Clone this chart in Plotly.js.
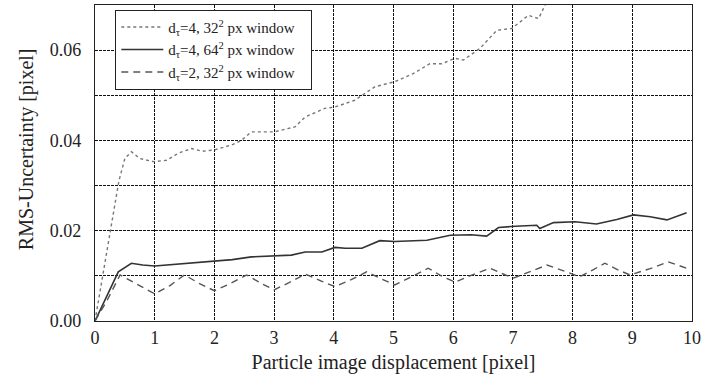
<!DOCTYPE html>
<html>
<head>
<meta charset="utf-8">
<script src="https://cdn.plot.ly/plotly-3.0.1.min.js"></script>
<style>html,body{margin:0;padding:0;background:#fff;}#chart{width:706px;height:381px;}</style>
</head>
<body>
<div id="chart"></div>
<script>
// d_tau=4, 32^2 px window (dotted)
const xA = [0, 0.1, 0.2, 0.3, 0.4, 0.5, 0.61, 0.75, 0.98, 1.2, 1.4, 1.62, 1.8, 2.0, 2.29, 2.45, 2.62, 3.0, 3.35, 3.52, 3.85, 4.02, 4.35, 4.69, 5.02, 5.33, 5.61, 5.81, 6.03, 6.17, 6.45, 6.73, 6.98, 7.26, 7.43, 7.54, 7.65];
const yA = [0, 0.008, 0.016, 0.024, 0.031, 0.036, 0.0375, 0.036, 0.0353, 0.0356, 0.0372, 0.0382, 0.0376, 0.0379, 0.039, 0.040, 0.0419, 0.0419, 0.043, 0.0452, 0.0471, 0.0474, 0.0489, 0.0519, 0.053, 0.0548, 0.057, 0.057, 0.0582, 0.0578, 0.0604, 0.0644, 0.0648, 0.0677, 0.067, 0.070, 0.073];

// d_tau=4, 64^2 px window (solid)
const xB = [0, 0.2, 0.39, 0.61, 0.8, 1.0, 1.3, 1.62, 2.0, 2.3, 2.62, 3.0, 3.29, 3.52, 3.8, 4.02, 4.19, 4.47, 4.77, 5.02, 5.3, 5.56, 5.95, 6.3, 6.56, 6.76, 7.04, 7.4, 7.45, 7.68, 8.04, 8.4, 8.74, 9.02, 9.3, 9.58, 9.91];
const yB = [0, 0.0055, 0.0109, 0.0128, 0.0124, 0.0122, 0.0125, 0.0128, 0.0133, 0.0136, 0.0142, 0.0144, 0.0146, 0.0153, 0.0153, 0.0163, 0.0161, 0.0161, 0.0178, 0.0176, 0.0177, 0.0179, 0.019, 0.0191, 0.0188, 0.0207, 0.021, 0.0212, 0.0205, 0.0218, 0.022, 0.0215, 0.0225, 0.0235, 0.0231, 0.0224, 0.024];

// d_tau=2, 32^2 px window (dashed)
const xC = [0, 0.2, 0.42, 0.7, 1.0, 1.25, 1.5, 1.75, 2.0, 2.25, 2.54, 2.8, 3.0, 3.25, 3.52, 3.8, 4.02, 4.3, 4.55, 4.8, 5.02, 5.3, 5.58, 5.8, 6.03, 6.3, 6.62, 6.8, 7.01, 7.3, 7.57, 7.85, 8.12, 8.35, 8.54, 8.75, 8.96, 9.3, 9.6, 9.91];
const yC = [0, 0.0045, 0.0102, 0.0082, 0.006, 0.0078, 0.0102, 0.0083, 0.0067, 0.0082, 0.0102, 0.0082, 0.0069, 0.0085, 0.0104, 0.0088, 0.0076, 0.0092, 0.0109, 0.0093, 0.008, 0.0098, 0.0117, 0.0100, 0.0086, 0.0101, 0.0117, 0.0106, 0.0095, 0.0110, 0.0124, 0.0111, 0.0098, 0.0114, 0.0128, 0.0114, 0.0102, 0.0116, 0.0131, 0.0117];

const legendNames = [
  'd<sub>τ</sub>=4, 32<sup>2</sup> px window',
  'd<sub>τ</sub>=4, 64<sup>2</sup> px window',
  'd<sub>τ</sub>=2, 32<sup>2</sup> px window'
];
const xTicks = [0,1,2,3,4,5,6,7,8,9,10];
const yTickVals = [0, 0.02, 0.04, 0.06];
const yTickText = ['0.00', '0.02', '0.04', '0.06'];
const xTitle = 'Particle image displacement [pixel]';
const yTitle = 'RMS-Uncertainty [pixel]';

const serif = '"Liberation Serif", "Times New Roman", serif';
const gridDash = '3px,1px';
const pad = '\u00a0\u00a0\u00a0';

const traces = [
  {x: xA, y: yA, name: legendNames[0] + pad, mode: 'lines', line: {color: '#777', width: 1.4, dash: 'dot'}},
  {x: xB, y: yB, name: legendNames[1] + pad, mode: 'lines', line: {color: '#333', width: 1.6, dash: 'solid'}},
  {x: xC, y: yC, name: legendNames[2] + pad, mode: 'lines', line: {color: '#555', width: 1.4, dash: '7px,5px'}}
];

const layout = {
  width: 706, height: 381,
  margin: {l: 95, r: 14, t: 5, b: 60},
  paper_bgcolor: '#fff', plot_bgcolor: '#fff',
  font: {family: serif, size: 18, color: '#222'},
  showlegend: true,
  legend: {
    x: 0.034, y: 0.985, xanchor: 'left', yanchor: 'top',
    bgcolor: '#fff', bordercolor: '#222', borderwidth: 1,
    font: {family: serif, size: 15, color: '#222'},
    tracegroupgap: 0, itemwidth: 42
  },
  xaxis: {
    range: [0, 10], tickvals: xTicks, ticktext: xTicks.map(String),
    showgrid: true, gridcolor: '#111', gridwidth: 1, griddash: gridDash,
    showline: true, linecolor: '#222', linewidth: 1.2, mirror: true,
    zeroline: false, ticks: '', tickfont: {family: serif, size: 18},
    title: {text: xTitle, font: {family: serif, size: 20}, standoff: 8}
  },
  yaxis: {
    range: [0, 0.07], tickvals: yTickVals, ticktext: yTickText,
    showgrid: true, gridcolor: '#111', gridwidth: 1, griddash: gridDash,
    minor: {dtick: 0.01, tick0: 0, showgrid: true, gridcolor: '#111', gridwidth: 1, griddash: gridDash, ticks: ''},
    showline: true, linecolor: '#222', linewidth: 1.2, mirror: true,
    zeroline: false, ticks: '', tickfont: {family: serif, size: 18},
    ticklabelstandoff: 9
  },
  annotations: [{
    text: yTitle, textangle: -90, showarrow: false,
    xref: 'paper', yref: 'paper', x: -0.115, y: 0.545,
    xanchor: 'center', yanchor: 'middle',
    font: {family: serif, size: 20, color: '#222'}
  }]
};

Plotly.newPlot('chart', traces, layout, {staticPlot: true, displayModeBar: false});
</script>
</body>
</html>
